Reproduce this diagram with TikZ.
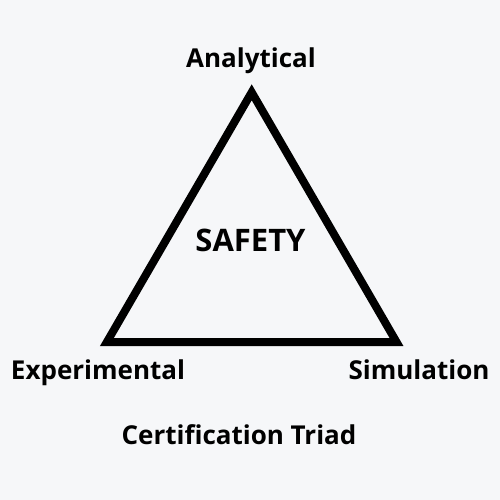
\documentclass[tikz,border=0pt]{standalone}
\usepackage{fontspec}
\setmainfont{Open Sans}
\definecolor{bgc}{HTML}{F6F7F9}
\tikzset{
  lbl/.style={font=\fontsize{26}{30}\selectfont\bfseries, text=black, inner sep=0pt, anchor=base},
  tri/.style={draw=black, line width=8pt, line join=miter}
}
\begin{document}
\begin{tikzpicture}[x=1pt,y=-1pt]
\fill[bgc] (0,0) rectangle (500,500);
\useasboundingbox (0,0) rectangle (500,500);
\coordinate (top) at (251.7,92.3);
\coordinate (bl) at (106.9,342);
\coordinate (br) at (396.5,342);
\draw[tri] (top) -- (bl) -- (br) -- cycle;
\node[lbl] (analytical) at (251,68) {Analytical};
\node[lbl] (experimental) at (98,379) {Experimental};
\node[lbl] (simulation) at (419,379) {Simulation};
\node[lbl, font=\fontsize{31}{34}\selectfont\bfseries] (safety) at (250.5,251.5) {SAFETY};
\node[lbl] (triad) at (239,444) {Certification Triad};
\end{tikzpicture}
\end{document}
